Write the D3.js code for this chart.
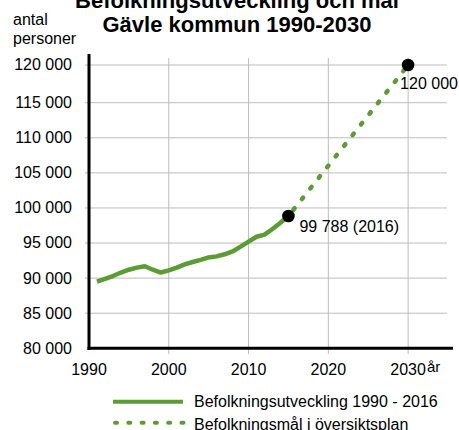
<!DOCTYPE html>
<html>
<head>
<meta charset="utf-8">
<script src="https://cdn.jsdelivr.net/npm/d3@7"></script>
<style>
  html, body { margin: 0; padding: 0; background: #fff; }
  svg { display: block; font-family: "Liberation Sans", Arial, sans-serif; }
</style>
</head>
<body>
<svg id="chart" width="459" height="430"></svg>
<script>
// ---- data ----
const titleLines = ["Befolkningsutveckling och mål", "Gävle kommun 1990-2030"];
const yAxisTitle = ["antal", "personer"];
const xAxisTitle = "år";
const years = [1991,1992,1993,1994,1995,1996,1997,1998,1999,2000,2001,2002,2003,2004,2005,2006,2007,2008,2009,2010,2011,2012,2013,2014,2015];
const population = [89500,89900,90300,90800,91200,91500,91700,91200,90800,91100,91500,91950,92300,92600,92950,93100,93400,93800,94500,95200,95900,96200,97000,97900,98850];
const targetYears = [2015, 2030];
const targetValues = [98850, 120000];
const pointLabels = ["99 788 (2016)", "120 000"];
const yTicks = [80000,85000,90000,95000,100000,105000,110000,115000,120000];
const xTicks = [1990,2000,2010,2020,2030];
const legendLabels = ["Befolkningsutveckling 1990 - 2016", "Befolkningsmål i översiktsplan"];

const green = "#5c9c34";
const svg = d3.select("#chart");
const fmt = d3.formatLocale({decimal: ",", thousands: " ", grouping: [3], currency: ["", ""]}).format(",d");

const x = d3.scaleLinear().domain([1990, 2035]).range([89, 448]);
const y = d3.scaleLinear().domain([80000, 115000, 120000]).range([348.3, 102.7, 65]);

// gridlines
svg.append("g").selectAll("line.h").data(yTicks.slice(1)).join("line")
  .attr("x1", 85).attr("x2", 447)
  .attr("y1", d => y(d)).attr("y2", d => y(d))
  .attr("stroke", "#bdbdbd").attr("stroke-width", 1);
svg.append("g").selectAll("line.v").data(xTicks.slice(1)).join("line")
  .attr("x1", d => x(d)).attr("x2", d => x(d))
  .attr("y1", 58).attr("y2", 354)
  .attr("stroke", "#bdbdbd").attr("stroke-width", 1);

// axes lines
svg.append("line").attr("x1", x(1990)).attr("x2", x(1990)).attr("y1", 54).attr("y2", 350)
  .attr("stroke", "#000").attr("stroke-width", 3);
svg.append("line").attr("x1", x(1990) - 1.5).attr("x2", 453).attr("y1", y(80000)).attr("y2", y(80000))
  .attr("stroke", "#000").attr("stroke-width", 3);

// y tick labels
svg.append("g").selectAll("text").data(yTicks).join("text")
  .attr("x", 72).attr("y", d => y(d)).attr("dy", "0.34em")
  .attr("text-anchor", "end").attr("font-size", 16).attr("fill", "#000")
  .text(d => fmt(d));

// x tick labels
svg.append("g").selectAll("text").data(xTicks).join("text")
  .attr("x", d => x(d)).attr("y", 375)
  .attr("text-anchor", "middle").attr("font-size", 16).attr("fill", "#000")
  .text(d => d);

svg.append("text").attr("x", 427).attr("y", 372).attr("font-size", 15).text(xAxisTitle);

// axis title
svg.append("g").selectAll("text").data(yAxisTitle).join("text")
  .attr("x", 13).attr("y", (d, i) => 25 + i * 19.3)
  .attr("font-size", 16).attr("fill", "#000").text(d => d);

// title
svg.append("g").selectAll("text").data(titleLines).join("text")
  .attr("x", 237).attr("y", (d, i) => 8 + i * 23.5)
  .attr("text-anchor", "middle").attr("font-size", 22).attr("font-weight", "bold")
  .attr("fill", "#000").text(d => d);

// lines
const line = d3.line().x(d => x(d[0])).y(d => y(d[1]));
svg.append("path").datum(years.map((yr, i) => [yr, population[i]]))
  .attr("d", line).attr("fill", "none").attr("stroke", green)
  .attr("stroke-width", 4.5).attr("stroke-linejoin", "round");
svg.append("path").datum(targetYears.map((yr, i) => [yr, targetValues[i]]))
  .attr("d", line).attr("fill", "none").attr("stroke", green)
  .attr("stroke-width", 4.5).attr("stroke-linecap", "round")
  .attr("stroke-dasharray", "2 11.6").attr("stroke-dashoffset", -8);

// points
svg.append("g").selectAll("circle").data(targetYears).join("circle")
  .attr("cx", d => x(d)).attr("cy", (d, i) => y(targetValues[i]))
  .attr("r", 6.3).attr("fill", "#000");

// point labels
svg.append("text").attr("x", x(targetYears[0]) + 11).attr("y", 232)
  .attr("font-size", 16).text(pointLabels[0]);
svg.append("text").attr("x", x(targetYears[1]) - 8).attr("y", 89)
  .attr("font-size", 16).text(pointLabels[1]);

// legend
const lg = svg.append("g");
lg.append("line").attr("x1", 113).attr("x2", 183).attr("y1", 401.7).attr("y2", 401.7)
  .attr("stroke", green).attr("stroke-width", 4);
lg.append("line").attr("x1", 115).attr("x2", 184).attr("y1", 422.7).attr("y2", 422.7)
  .attr("stroke", green).attr("stroke-width", 4).attr("stroke-linecap", "round")
  .attr("stroke-dasharray", "2 11.3");
lg.selectAll("text").data(legendLabels).join("text")
  .attr("x", 194).attr("y", (d, i) => 407 + i * 22.5)
  .attr("font-size", 16).attr("fill", "#000").text(d => d);
</script>
</body>
</html>
